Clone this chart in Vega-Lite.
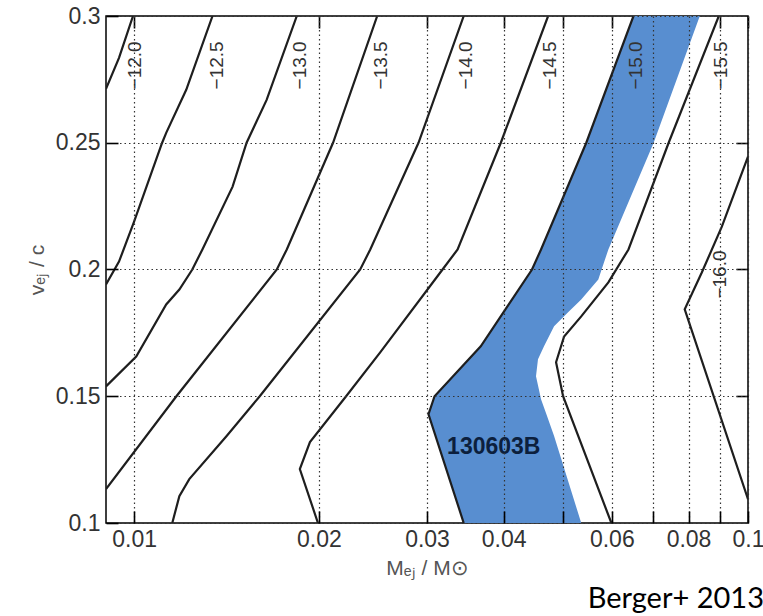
{
  "$schema": "https://vega.github.io/schema/vega-lite/v6.json",
  "width": 642,
  "height": 507,
  "autosize": {"type": "none"},
  "padding": {"left": 106, "top": 16, "right": 15, "bottom": 93},
  "background": "white",
  "config": {
    "view": {"stroke": "#000", "strokeWidth": 1.5},
    "font": "Liberation Sans"
  },
  "title": {
    "text": "Berger+ 2013",
    "orient": "bottom",
    "anchor": "end",
    "frame": "bounds",
    "font": "Lato",
    "fontSize": 29,
    "fontWeight": "normal",
    "color": "#000",
    "offset": 7
  },
  "datasets": {
    "band": [
      {"v": 0.1, "lo": 0.03443, "hi": 0.0535},
      {"v": 0.1343, "lo": 0.03099, "hi": 0.04832},
      {"v": 0.1429, "lo": 0.03017, "hi": 0.04695},
      {"v": 0.1488, "lo": 0.03074, "hi": 0.04601},
      {"v": 0.15, "lo": 0.03086, "hi": 0.0459},
      {"v": 0.1579, "lo": 0.03308, "hi": 0.04515},
      {"v": 0.1646, "lo": 0.03509, "hi": 0.04549},
      {"v": 0.1697, "lo": 0.0367, "hi": 0.04653},
      {"v": 0.1776, "lo": 0.03857, "hi": 0.04832},
      {"v": 0.1831, "lo": 0.03995, "hi": 0.05093},
      {"v": 0.1882, "lo": 0.04127, "hi": 0.0535},
      {"v": 0.1961, "lo": 0.04339, "hi": 0.05704},
      {"v": 0.2, "lo": 0.04448, "hi": 0.05775},
      {"v": 0.2079, "lo": 0.04601, "hi": 0.05923},
      {"v": 0.25, "lo": 0.05452, "hi": 0.0702},
      {"v": 0.3, "lo": 0.06508, "hi": 0.08346}
    ],
    "contours": [
      {"level": "-12.0", "i": 0, "M": 0.009, "v": 0.2713},
      {"level": "-12.0", "i": 1, "M": 0.00945, "v": 0.2835},
      {"level": "-12.0", "i": 2, "M": 0.00996, "v": 0.3},

      {"level": "-12.5", "i": 0, "M": 0.009, "v": 0.1941},
      {"level": "-12.5", "i": 1, "M": 0.00945, "v": 0.2031},
      {"level": "-12.5", "i": 2, "M": 0.01, "v": 0.2189},
      {"level": "-12.5", "i": 3, "M": 0.01111, "v": 0.25},
      {"level": "-12.5", "i": 4, "M": 0.01128, "v": 0.2539},
      {"level": "-12.5", "i": 5, "M": 0.01216, "v": 0.2709},
      {"level": "-12.5", "i": 6, "M": 0.01342, "v": 0.3},

      {"level": "-13.0", "i": 0, "M": 0.009, "v": 0.1539},
      {"level": "-13.0", "i": 1, "M": 0.01008, "v": 0.1657},
      {"level": "-13.0", "i": 2, "M": 0.01128, "v": 0.1862},
      {"level": "-13.0", "i": 3, "M": 0.01185, "v": 0.1921},
      {"level": "-13.0", "i": 4, "M": 0.01244, "v": 0.2},
      {"level": "-13.0", "i": 5, "M": 0.01292, "v": 0.2079},
      {"level": "-13.0", "i": 6, "M": 0.01447, "v": 0.2327},
      {"level": "-13.0", "i": 7, "M": 0.01525, "v": 0.25},
      {"level": "-13.0", "i": 8, "M": 0.01644, "v": 0.2669},
      {"level": "-13.0", "i": 9, "M": 0.01841, "v": 0.3},

      {"level": "-13.5", "i": 0, "M": 0.009, "v": 0.1134},
      {"level": "-13.5", "i": 1, "M": 0.01172, "v": 0.15},
      {"level": "-13.5", "i": 2, "M": 0.01708, "v": 0.2},
      {"level": "-13.5", "i": 3, "M": 0.01773, "v": 0.2079},
      {"level": "-13.5", "i": 4, "M": 0.02109, "v": 0.25},
      {"level": "-13.5", "i": 5, "M": 0.02489, "v": 0.3},

      {"level": "-14.0", "i": 0, "M": 0.01154, "v": 0.1},
      {"level": "-14.0", "i": 1, "M": 0.01185, "v": 0.1106},
      {"level": "-14.0", "i": 2, "M": 0.0123, "v": 0.1173},
      {"level": "-14.0", "i": 3, "M": 0.01415, "v": 0.1343},
      {"level": "-14.0", "i": 4, "M": 0.01602, "v": 0.15},
      {"level": "-14.0", "i": 5, "M": 0.02335, "v": 0.2},
      {"level": "-14.0", "i": 6, "M": 0.02425, "v": 0.2079},
      {"level": "-14.0", "i": 7, "M": 0.02906, "v": 0.25},
      {"level": "-14.0", "i": 8, "M": 0.03443, "v": 0.3},

      {"level": "-14.5", "i": 0, "M": 0.01993, "v": 0.1},
      {"level": "-14.5", "i": 1, "M": 0.01862, "v": 0.1213},
      {"level": "-14.5", "i": 2, "M": 0.01934, "v": 0.1319},
      {"level": "-14.5", "i": 3, "M": 0.02215, "v": 0.15},
      {"level": "-14.5", "i": 4, "M": 0.02517, "v": 0.1673},
      {"level": "-14.5", "i": 5, "M": 0.0318, "v": 0.2},
      {"level": "-14.5", "i": 6, "M": 0.03365, "v": 0.2079},
      {"level": "-14.5", "i": 7, "M": 0.03957, "v": 0.25},
      {"level": "-14.5", "i": 8, "M": 0.04725, "v": 0.3},

      {"level": "-15.0", "i": 0, "M": 0.03443, "v": 0.1},
      {"level": "-15.0", "i": 1, "M": 0.03017, "v": 0.1429},
      {"level": "-15.0", "i": 2, "M": 0.03086, "v": 0.15},
      {"level": "-15.0", "i": 3, "M": 0.0367, "v": 0.1697},
      {"level": "-15.0", "i": 4, "M": 0.04448, "v": 0.2},
      {"level": "-15.0", "i": 5, "M": 0.04601, "v": 0.2079},
      {"level": "-15.0", "i": 6, "M": 0.05452, "v": 0.25},
      {"level": "-15.0", "i": 7, "M": 0.06508, "v": 0.3},

      {"level": "-15.5", "i": 0, "M": 0.0599, "v": 0.1},
      {"level": "-15.5", "i": 1, "M": 0.04998, "v": 0.15},
      {"level": "-15.5", "i": 2, "M": 0.04868, "v": 0.1634},
      {"level": "-15.5", "i": 3, "M": 0.05017, "v": 0.1736},
      {"level": "-15.5", "i": 4, "M": 0.0535, "v": 0.1815},
      {"level": "-15.5", "i": 5, "M": 0.05923, "v": 0.1949},
      {"level": "-15.5", "i": 6, "M": 0.06387, "v": 0.2079},
      {"level": "-15.5", "i": 7, "M": 0.07426, "v": 0.25},
      {"level": "-15.5", "i": 8, "M": 0.08963, "v": 0.3},

      {"level": "-16.0", "i": 0, "M": 0.1, "v": 0.2445},
      {"level": "-16.0", "i": 1, "M": 0.09065, "v": 0.2169},
      {"level": "-16.0", "i": 2, "M": 0.08409, "v": 0.1988},
      {"level": "-16.0", "i": 3, "M": 0.07887, "v": 0.1843},
      {"level": "-16.0", "i": 4, "M": 0.1, "v": 0.1094}
    ],
    "labels": [
      {"text": "−12.0", "M": 0.01004, "v": 0.2805},
      {"text": "−12.5", "M": 0.01367, "v": 0.2805},
      {"text": "−13.0", "M": 0.01862, "v": 0.2805},
      {"text": "−13.5", "M": 0.02527, "v": 0.2805},
      {"text": "−14.0", "M": 0.03469, "v": 0.2805},
      {"text": "−14.5", "M": 0.0476, "v": 0.2805},
      {"text": "−15.0", "M": 0.06582, "v": 0.2805},
      {"text": "−15.5", "M": 0.09031, "v": 0.2805},
      {"text": "−16.0", "M": 0.08997, "v": 0.198}
    ],
    "event": [
      {"text": "130603B", "M": 0.03854, "v": 0.1299}
    ]
  },
  "layer": [
    {
      "data": {"name": "band"},
      "mark": {"type": "area", "orient": "horizontal", "color": "#588ED0", "opacity": 1, "clip": true},
      "encoding": {
        "y": {
          "field": "v", "type": "quantitative",
          "scale": {"domain": [0.1, 0.3], "nice": false, "zero": false},
          "axis": {
            "orient": "left",
            "values": [0.1, 0.15, 0.2, 0.25, 0.3],
            "format": ".2~f",
            "title": "vₑⱼ / c",
            "titleFontSize": 21,
            "titleFontWeight": "normal",
            "titleColor": "#555",
            "titlePadding": 8,
            "labelFontSize": 23,
            "labelColor": "#333",
            "labelPadding": 18,
            "tickSize": -12,
            "tickColor": "#000",
            "tickWidth": 1.6,
            "domain": false,
            "grid": true,
            "gridDash": [1.5, 3],
            "gridColor": "#333",
            "gridWidth": 1.2,
            "zindex": 1
          }
        },
        "x": {
          "field": "lo", "type": "quantitative",
          "scale": {"type": "log", "domain": [0.009, 0.1], "nice": false},
          "axis": {
            "orient": "bottom",
            "values": [0.01, 0.02, 0.03, 0.04, 0.05, 0.06, 0.07, 0.08, 0.09, 0.1],
            "labelExpr": "datum.value == 0.05 || datum.value == 0.07 || datum.value == 0.09 ? '' : format(datum.value, '.2~f')",
            "title": "Mₑⱼ / M⊙",
            "titleFontSize": 21,
            "titleFontWeight": "normal",
            "titleColor": "#555",
            "titlePadding": 6,
            "labelFontSize": 23,
            "labelColor": "#333",
            "labelPadding": 17,
            "labelFlush": false,
            "labelOverlap": false,
            "tickSize": -12,
            "tickColor": "#000",
            "tickWidth": 1.6,
            "domain": false,
            "grid": true,
            "gridDash": [1.5, 3],
            "gridColor": "#333",
            "gridWidth": 1.2,
            "zindex": 1
          }
        },
        "x2": {"field": "hi"}
      }
    },
    {
      "data": {"name": "contours"},
      "mark": {"type": "line", "color": "#1e1e1e", "strokeWidth": 2.2, "clip": true},
      "encoding": {
        "x": {
          "field": "M", "type": "quantitative",
          "scale": {"type": "log", "domain": [0.009, 0.1], "nice": false},
          "axis": {
            "orient": "top",
            "values": [0.01, 0.02, 0.03, 0.04, 0.05, 0.06, 0.07, 0.08, 0.09, 0.1],
            "labels": false,
            "title": null,
            "tickSize": -12,
            "tickColor": "#000",
            "tickWidth": 1.6,
            "domain": false,
            "grid": false
          }
        },
        "y": {
          "field": "v", "type": "quantitative",
          "scale": {"domain": [0.1, 0.3], "nice": false, "zero": false},
          "axis": {
            "orient": "right",
            "values": [0.15, 0.2, 0.25],
            "labels": false,
            "title": null,
            "tickSize": -12,
            "tickColor": "#000",
            "tickWidth": 1.6,
            "domain": false,
            "grid": false
          }
        },
        "detail": {"field": "level", "type": "nominal"},
        "order": {"field": "i", "type": "quantitative"}
      }
    },
    {
      "data": {"name": "labels"},
      "mark": {"type": "text", "angle": 270, "align": "center", "baseline": "middle", "fontSize": 19, "color": "#333", "font": "Liberation Sans"},
      "encoding": {
        "x": {"field": "M", "type": "quantitative", "scale": {"type": "log", "domain": [0.009, 0.1], "nice": false}, "axis": null},
        "y": {"field": "v", "type": "quantitative", "scale": {"domain": [0.1, 0.3], "nice": false, "zero": false}, "axis": null},
        "text": {"field": "text"}
      }
    },
    {
      "data": {"name": "event"},
      "mark": {"type": "text", "align": "center", "baseline": "middle", "fontSize": 23, "fontWeight": "bold", "color": "#0c1f3d", "font": "Liberation Sans"},
      "encoding": {
        "x": {"field": "M", "type": "quantitative", "scale": {"type": "log", "domain": [0.009, 0.1], "nice": false}, "axis": null},
        "y": {"field": "v", "type": "quantitative", "scale": {"domain": [0.1, 0.3], "nice": false, "zero": false}, "axis": null},
        "text": {"field": "text"}
      }
    }
  ],
  "resolve": {"axis": {"x": "independent", "y": "independent"}}
}
